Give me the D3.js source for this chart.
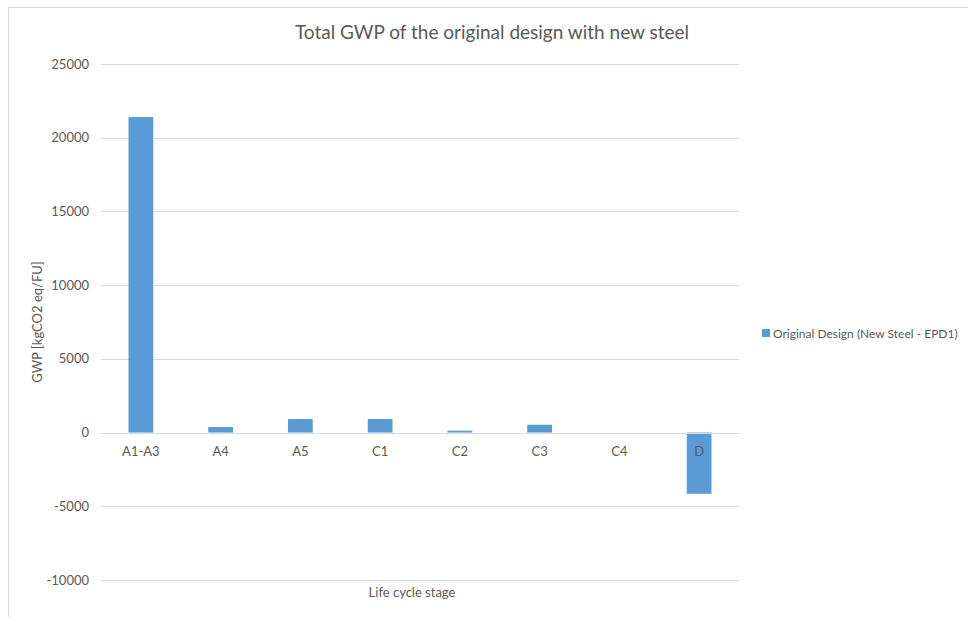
<!DOCTYPE html>
<html><head><meta charset="utf-8">
<script src="https://cdn.jsdelivr.net/npm/d3@7"></script>
<style>body{margin:0;background:#fff;} text{font-family:Lato,"Open Sans",sans-serif;}</style>
</head><body><svg id="c" width="968" height="617"></svg>
<script>
const categories = ["A1-A3","A4","A5","C1","C2","C3","C4","D"];
const values = [21400, 380, 920, 920, 130, 530, 0, -4150];
const yTicks = [-10000,-5000,0,5000,10000,15000,20000,25000];
const seriesName = "Original Design (New Steel - EPD1)";
const title = "Total GWP of the original design with new steel";
const xTitle = "Life cycle stage";
const yTitle = "GWP [kgCO2 eq/FU]";

const svg = d3.select("#c");
const m = {l:101, r:739, t:64, b:580};
svg.append("rect").attr("x",8.5).attr("y",7.5).attr("width",1000).attr("height",700)
  .attr("fill","none").attr("stroke","#d9d9d9");
const x = d3.scaleBand().domain(categories).range([m.l,m.r]).paddingInner(0.69).paddingOuter(0.345);
const y = d3.scaleLinear().domain([-10000,25000]).range([m.b,m.t]);
const col = "#5b9bd5", txt="#595959";
svg.append("g").selectAll("line").data(yTicks).join("line")
  .attr("x1",m.l).attr("x2",m.r).attr("y1",d=>Math.round(y(d))+0.5).attr("y2",d=>Math.round(y(d))+0.5)
  .attr("stroke","#d9d9d9").attr("stroke-width",1);
svg.append("g").selectAll("text").data(yTicks).join("text")
  .attr("x",89).attr("y",d=>y(d)+4.5).attr("text-anchor","end").attr("font-size",13).attr("fill",txt).text(d=>d);
svg.append("g").selectAll("rect").data(values).join("rect")
  .attr("x",(d,i)=>x(categories[i])).attr("width",x.bandwidth())
  .attr("y",d=>y(Math.max(d,0))).attr("height",d=>Math.abs(y(d)-y(0))).attr("fill",col);
svg.append("line").attr("x1",m.l).attr("x2",m.r).attr("y1",Math.round(y(0))+0.5).attr("y2",Math.round(y(0))+0.5).attr("stroke","#d9d9d9");
svg.append("g").selectAll("text").data(categories).join("text")
  .attr("x",d=>x(d)+x.bandwidth()/2).attr("y",y(0)+23).attr("text-anchor","middle")
  .attr("font-size",13).attr("fill",txt).text(d=>d);
svg.append("text").attr("x",492).attr("y",39).attr("text-anchor","middle").attr("font-size",19).attr("fill",txt).text(title);
svg.append("text").attr("x",412).attr("y",597).attr("text-anchor","middle").attr("font-size",13).attr("fill",txt).text(xTitle);
svg.append("text").attr("transform","translate(42,322) rotate(-90)").attr("text-anchor","middle").attr("font-size",13).attr("fill",txt).text(yTitle);
svg.append("rect").attr("x",762).attr("y",329).attr("width",8).attr("height",8).attr("fill",col);
svg.append("text").attr("x",773).attr("y",337.5).attr("font-size",12).attr("fill",txt).text(seriesName);
</script></body></html>
